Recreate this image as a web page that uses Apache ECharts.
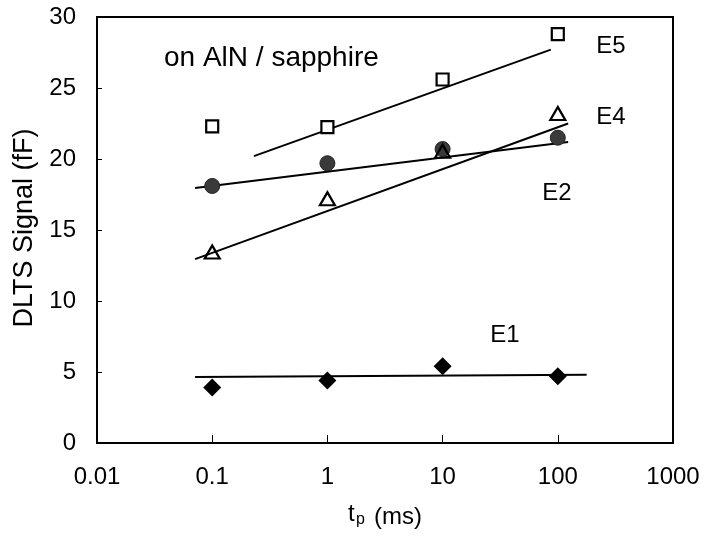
<!DOCTYPE html>
<html>
<head>
<meta charset="utf-8">
<script src="https://cdn.jsdelivr.net/npm/echarts@6/dist/echarts.min.js"></script>
<style>html,body{margin:0;padding:0;background:#fff}#c{width:707px;height:539px}</style>
</head>
<body>
<div id="c"></div>
<script>
// Data
var tp = [0.1, 1, 10, 100];
var E5 = [22.3, 22.25, 25.6, 28.8];
var E4 = [13.45, 17.2, 20.55, 23.2];
var E2 = [18.1, 19.7, 20.7, 21.5];
var E1 = [3.9, 4.4, 5.4, 4.7];
// fitted lines (endpoints)
var fitE5 = [[0.23, 20.2], [87, 27.7]];
var fitE4 = [[0.071, 12.95], [123, 22.5]];
var fitE2 = [[0.071, 17.95], [123, 21.2]];
var fitE1 = [[0.071, 4.65], [178, 4.8]];
var xTicks = [0.01, 0.1, 1, 10, 100, 1000];
var yTicks = [0, 5, 10, 15, 20, 25, 30];

function pts(ys) { return tp.map(function (t, i) { return [t, ys[i]]; }); }
var FONT = '"Liberation Sans", Arial, sans-serif';
var chart = echarts.init(document.getElementById('c'), null, {renderer: 'canvas'});
function fitLine(d) {
  return {type: 'line', data: d, symbol: 'none', silent: true, z: 2,
    lineStyle: {color: '#000', width: 2}};
}
chart.setOption({
  animation: false,
  backgroundColor: '#fff',
  grid: {left: 97, right: 34, top: 17, bottom: 96, show: true, borderColor: '#000', borderWidth: 2, backgroundColor: 'transparent'},
  xAxis: {
    type: 'log', logBase: 10, min: xTicks[0], max: xTicks[xTicks.length - 1],
    axisLine: {show: true, lineStyle: {color: '#000', width: 2}},
    axisTick: {show: true, inside: true, length: 8, lineStyle: {color: '#000', width: 1}},
    minorTick: {show: false},
    splitLine: {show: false},
    axisLabel: {fontFamily: FONT, fontSize: 24, color: '#000', margin: 22,
      formatter: function (v) { return String(+Number(v).toPrecision(6)); }}
  },
  yAxis: {
    type: 'value', min: yTicks[0], max: yTicks[yTicks.length - 1], interval: 5,
    axisLine: {show: true, lineStyle: {color: '#000', width: 2}},
    axisTick: {show: true, inside: true, length: 5, lineStyle: {color: '#000', width: 1}},
    splitLine: {show: false},
    axisLabel: {fontFamily: FONT, fontSize: 24, color: '#000', margin: 21}
  },
  series: [
    fitLine(fitE5), fitLine(fitE4), fitLine(fitE2), fitLine(fitE1),
    {type: 'scatter', name: 'E2', data: pts(E2), symbol: 'circle', symbolSize: 15, z: 3,
      itemStyle: {color: '#3a3a3a', borderColor: '#222', borderWidth: 1, opacity: 1}},
    {type: 'scatter', name: 'E4', data: pts(E4), symbol: 'triangle', symbolSize: [15, 13], z: 4,
      itemStyle: {color: 'rgba(0,0,0,0)', borderColor: '#000', borderWidth: 2.2, opacity: 1}},
    {type: 'scatter', name: 'E5', data: pts(E5), symbol: 'rect', symbolSize: 12, z: 4,
      itemStyle: {color: '#fff', borderColor: '#000', borderWidth: 2.2, opacity: 1}},
    {type: 'scatter', name: 'E1', data: pts(E1), symbol: 'diamond', symbolSize: 18, z: 4,
      itemStyle: {color: '#000', opacity: 1}}
  ],
  graphic: [
    {type: 'text', left: 164, top: 44, style: {text: 'on AlN / sapphire', font: '28px ' + FONT, fill: '#000'}},
    {type: 'text', x: 611, y: 46, style: {text: 'E5', font: '24px ' + FONT, fill: '#000', textAlign: 'center', textVerticalAlign: 'middle'}},
    {type: 'text', x: 611, y: 117, style: {text: 'E4', font: '24px ' + FONT, fill: '#000', textAlign: 'center', textVerticalAlign: 'middle'}},
    {type: 'text', x: 557, y: 193, style: {text: 'E2', font: '24px ' + FONT, fill: '#000', textAlign: 'center', textVerticalAlign: 'middle'}},
    {type: 'text', x: 505, y: 335, style: {text: 'E1', font: '24px ' + FONT, fill: '#000', textAlign: 'center', textVerticalAlign: 'middle'}},
    {type: 'text', x: 25, y: 228, rotation: Math.PI / 2, style: {text: 'DLTS Signal (fF)', font: '27px ' + FONT, fill: '#000', textAlign: 'center', textVerticalAlign: 'middle'}},
    {type: 'text', x: 348, y: 526, style: {text: 't', font: '24px ' + FONT, fill: '#000', textAlign: 'left', textVerticalAlign: 'bottom'}},
    {type: 'text', x: 356, y: 528, style: {text: 'p', font: '16px ' + FONT, fill: '#000', textAlign: 'left', textVerticalAlign: 'bottom'}},
    {type: 'text', x: 374, y: 517, style: {text: '(ms)', font: '24px ' + FONT, fill: '#000', textAlign: 'left', textVerticalAlign: 'middle'}}
  ]
});
</script>
</body>
</html>
